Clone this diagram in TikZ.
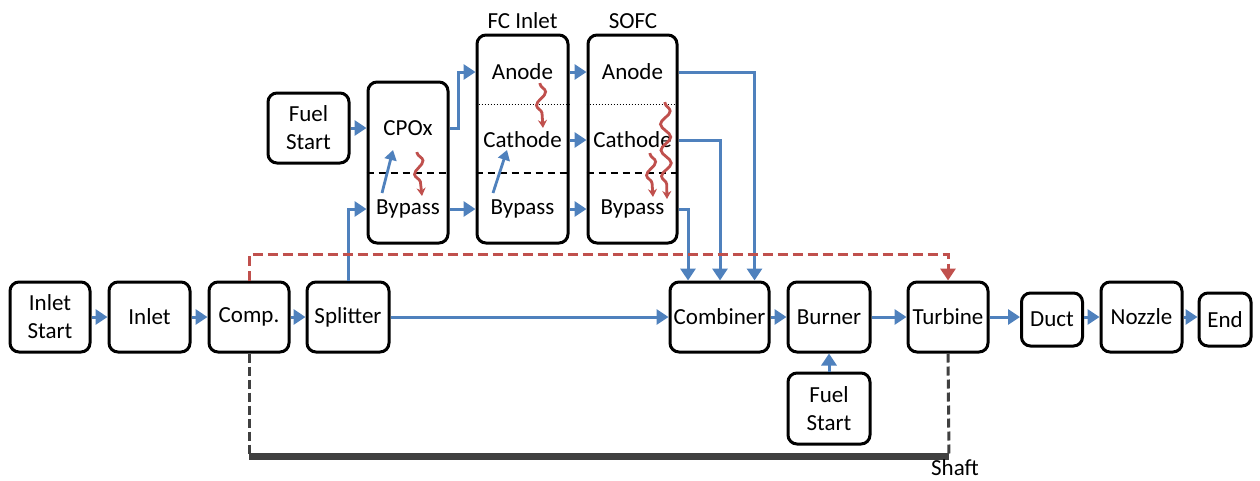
\documentclass[tikz,border=0pt]{standalone}
\usepackage{fontspec}
\setmainfont{Carlito}
\usetikzlibrary{arrows.meta,decorations.pathmorphing,calc}
\definecolor{fblue}{HTML}{4F81BD}
\definecolor{fred}{HTML}{C0504D}
\definecolor{sgray}{HTML}{404040}
\begin{document}
\begin{tikzpicture}[x=1pt,y=-1pt,
  box/.style={draw=black,line width=3pt,rounded corners=9pt,fill=white,inner sep=0pt,align=center,font=\fontsize{23}{28}\selectfont},
  lbl/.style={inner sep=0pt,font=\fontsize{23}{28}\selectfont},
  flow/.style={draw=fblue,line width=3pt,-{Triangle[length=12pt,width=15pt]}},
  inflow/.style={draw=fblue,line width=2.8pt,-{Triangle[length=10pt,width=12pt]}},
  wave/.style={draw=fred,line width=2.8pt,-{Stealth[length=8pt,width=9pt]},decorate,decoration={snake,segment length=26pt,amplitude=5pt,pre length=1pt,post length=5pt}},
  reddash/.style={draw=fred,line width=3pt,dash pattern=on 10pt off 5pt,-{Triangle[length=12pt,width=15pt]}},
  graydash/.style={draw=sgray,line width=3pt,dash pattern=on 9pt off 4pt},
  shaftline/.style={draw=sgray,line width=7pt},
  divdash/.style={draw=black,line width=2.4pt,dash pattern=on 7pt off 5pt},
  divdot/.style={draw=black,line width=1pt,dash pattern=on 1pt off 2pt}
]
\useasboundingbox (0,0) rectangle (1260,480);

% main row
\node[box,minimum width=80pt,minimum height=70pt] (instart) at (50,317) {Inlet\\Start};
\node[box,minimum width=81pt,minimum height=70pt] (inlet) at (149.5,317) {Inlet};
\node[box,minimum width=80pt,minimum height=70pt] (comp) at (249,317) {Comp.};
\node[box,minimum width=82pt,minimum height=70pt] (split) at (348,317) {Splitter};
\node[box,minimum width=99pt,minimum height=70pt] (comb) at (719.5,317) {Combiner};
\node[box,minimum width=82pt,minimum height=70pt] (burner) at (829,317) {Burner};
\node[box,minimum width=80pt,minimum height=70pt] (turb) at (948,317) {Turbine};
\node[box,minimum width=61pt,minimum height=53pt] (duct) at (1052,319.5) {Duct};
\node[box,minimum width=81pt,minimum height=70pt] (nozzle) at (1141.5,317) {Nozzle};
\node[box,minimum width=52pt,minimum height=53pt] (endn) at (1225,319.5) {End};
\node[box,minimum width=82pt,minimum height=71pt] (fuelB) at (829,408.5) {Fuel\\Start};

% upper part
\node[box,minimum width=81pt,minimum height=70pt] (fuelT) at (308.5,128) {Fuel\\Start};
\node[box,minimum width=80pt,minimum height=161pt] (cpox) at (408,162.5) {};
\node[box,minimum width=91pt,minimum height=208pt] (fcin) at (522.5,139) {};
\node[box,minimum width=89pt,minimum height=208pt] (sofc) at (632.5,139) {};

\coordinate (dashY) at (0,173);
\coordinate (dotY) at (0,104);
\draw[divdash] (cpox.west |- dashY) -- (cpox.east |- dashY);
\draw[divdash] (fcin.west |- dashY) -- (fcin.east |- dashY);
\draw[divdash] (sofc.west |- dashY) -- (sofc.east |- dashY);
\draw[divdot] (fcin.west |- dotY) -- (fcin.east |- dotY);
\draw[divdot] (sofc.west |- dotY) -- (sofc.east |- dotY);

\node[lbl] (cpoxT) at (408,128) {CPOx};
\node[lbl] (cpoxB) at (408,209) {Bypass};
\node[lbl] (fcA) at (522.5,72) {Anode};
\node[lbl] (fcC) at (522.5,140) {Cathode};
\node[lbl] (fcB) at (522.5,209) {Bypass};
\node[lbl] (sA) at (632.5,72) {Anode};
\node[lbl] (sC) at (632.5,140) {Cathode};
\node[lbl] (sB) at (632.5,209) {Bypass};
\node[lbl] (hfc) at (522.5,21) {FC Inlet};
\node[lbl] (hsofc) at (633,21) {SOFC};

% main row flows
\draw[flow] (instart.east) -- (inlet.west);
\draw[flow] (inlet.east) -- (comp.west);
\draw[flow] (comp.east) -- (split.west);
\draw[flow] (split.east) -- (comb.west);
\draw[flow] (comb.east) -- (burner.west);
\draw[flow] (burner.east) -- (turb.west);
\draw[flow] (turb.east) -- (turb.east -| duct.west);
\draw[flow] (duct.east |- nozzle.west) -- (nozzle.west);
\draw[flow] (nozzle.east) -- (nozzle.east -| endn.west);
\draw[flow] (fuelB.north) -- (burner.south);

% upper flows
\draw[flow] (fuelT.east) -- (cpox.west |- fuelT.east);
\draw[flow] (split.north) |- (cpox.west |- cpoxB);
\draw[flow] (cpox.east |- cpoxT) -- ++(9,0) |- (fcin.west |- fcA);
\draw[flow] (cpox.east |- cpoxB) -- (fcin.west |- cpoxB);
\draw[flow] (fcin.east |- fcA) -- (sofc.west |- fcA);
\draw[flow] (fcin.east |- fcC) -- (sofc.west |- fcC);
\draw[flow] (fcin.east |- fcB) -- (sofc.west |- fcB);
\draw[flow] (sofc.east |- sA) -| ([xshift=35pt]comb.north);
\draw[flow] (sofc.east |- sC) -| ([xshift=0.5pt]comb.north);
\draw[flow] (sofc.east |- sB) -| ([xshift=-31.5pt]comb.north);

% inner arrows
\draw[inflow] (382,193) -- (393,150);
\draw[inflow] (493,193) -- (507,150);
\draw[wave] (417,152) -- (422,196);
\draw[wave] (540,83) -- (543,128);
\draw[wave] (665,102) -- (667,199);
\draw[wave] (650,153) -- (653,197);

% red dashed control
\coordinate (rc) at (turb.north |- 0,254);
\draw[reddash] (comp.north) |- (rc) -- (turb.north);

% shaft
\coordinate (shL) at (249,456);
\coordinate (shR) at (949,456);
\draw[graydash] (comp.south) -- (shL);
\draw[graydash] (turb.south) -- (shR);
\draw[shaftline] (shL) -- (shR);
\node[lbl] (shaftlbl) at (955,468) {Shaft};
\end{tikzpicture}
\end{document}
